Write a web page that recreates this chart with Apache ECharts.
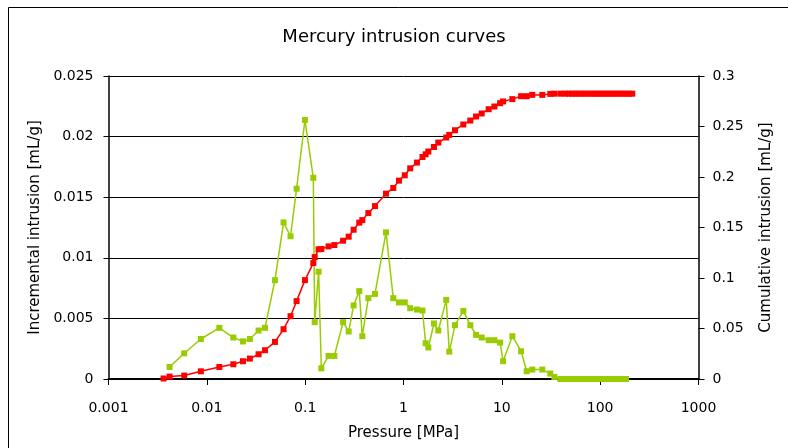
<!DOCTYPE html>
<html>
<head>
<meta charset="utf-8">
<script src="https://cdn.jsdelivr.net/npm/echarts@6/dist/echarts.min.js"></script>
<style>
html,body{margin:0;padding:0;background:#fff;}
#chart{width:788px;height:448px;}
</style>
</head>
<body>
<div id="chart"></div>
<script>
// Pressure [MPa] (shared x values)
var pressure = [0.00363, 0.00418, 0.00589, 0.0087, 0.0134, 0.0186, 0.0233, 0.0274, 0.0336, 0.039,
  0.0493, 0.0603, 0.071, 0.0818, 0.0995, 0.121, 0.125, 0.137, 0.146, 0.173,
  0.198, 0.243, 0.277, 0.311, 0.355, 0.381, 0.439, 0.513, 0.664, 0.787,
  0.90, 1.03, 1.17, 1.37, 1.56, 1.68, 1.79, 2.04, 2.26, 2.72,
  2.92, 3.34, 4.06, 4.78, 5.47, 6.24, 7.35, 8.4, 9.6, 10.3,
  12.8, 15.7, 17.9, 20.4, 25.8, 31.1, 34.2, 39.4, 44, 48,
  52, 56, 60, 65, 70, 76, 82, 88, 95, 102,
  110, 118, 127, 137, 147, 158, 170, 183, 197, 212];
// Incremental intrusion [mL/g] (left axis)
var incremental = [null, 0.00099, 0.00212, 0.0033, 0.00422, 0.00342, 0.0031, 0.0033, 0.004, 0.00422,
  0.00815, 0.01292, 0.01178, 0.0157, 0.02137, 0.0166, 0.00469, 0.00885, 0.00088, 0.0019,
  0.0019, 0.00469, 0.00392, 0.00607, 0.00725, 0.00353, 0.00667, 0.00702, 0.0121, 0.00667,
  0.00632, 0.00632, 0.00584, 0.00573, 0.00565, 0.00295, 0.0026, 0.00458, 0.004, 0.00653,
  0.00226, 0.00444, 0.00562, 0.00444, 0.00364, 0.00342, 0.0032, 0.0032, 0.003, 0.00147,
  0.00353, 0.00229, 0.00064, 0.00078, 0.00078, 0.00045, 0.00017, 0, 0, 0,
  0, 0, 0, 0, 0, 0, 0, 0, 0, 0,
  0, 0, 0, 0, 0, 0, 0, 0, null, null];
// Cumulative intrusion [mL/g] (right axis)
var cumulative = [0.0005, 0.0024, 0.0034, 0.0076, 0.0119, 0.0146, 0.0176, 0.0202, 0.0245, 0.0285,
  0.0367, 0.0493, 0.0622, 0.0771, 0.0979, 0.1148, 0.1207, 0.1284, 0.1287, 0.1313,
  0.1326, 0.1369, 0.1409, 0.1478, 0.1548, 0.1573, 0.1643, 0.1712, 0.1835, 0.1891,
  0.1964, 0.2017, 0.2086, 0.2143, 0.2198, 0.2225, 0.2252, 0.2297, 0.2341, 0.2391,
  0.2417, 0.2463, 0.2520, 0.2559, 0.2599, 0.2629, 0.2671, 0.2698, 0.2731, 0.2748,
  0.2771, 0.2800, 0.2800, 0.2813, 0.2813, 0.2823, 0.2825, 0.2825, 0.2825, 0.2825,
  0.2825, 0.2825, 0.2825, 0.2825, 0.2825, 0.2825, 0.2825, 0.2825, 0.2825, 0.2825,
  0.2825, 0.2825, 0.2825, 0.2825, 0.2825, 0.2825, 0.2825, 0.2825, 0.2825, 0.2825];
var xTickLabels = ['0.001', '0.01', '0.1', '1', '10', '100', '1000'];
var leftTickLabels = ['0', '0.005', '0.01', '0.015', '0.02', '0.025'];
var rightTickLabels = ['0', '0.05', '0.1', '0.15', '0.2', '0.25', '0.3'];

var FONT = 'DejaVu Sans';
function pairs(xs, ys) {
  var out = [];
  for (var i = 0; i < xs.length; i++) {
    if (ys[i] !== null) out.push([xs[i], ys[i]]);
  }
  return out;
}
var chart = echarts.init(document.getElementById('chart'), null, {renderer: 'canvas'});
chart.setOption({
  animation: false,
  backgroundColor: '#fff',
  title: {
    text: 'Mercury intrusion curves',
    left: 'center',
    top: 23,
    textStyle: {fontFamily: FONT, fontSize: 18, fontWeight: 'normal', color: '#000'}
  },
  graphic: [{
    type: 'rect',
    shape: {x: 8.5, y: 7.5, width: 820, height: 470},
    style: {fill: 'none', stroke: '#000', lineWidth: 1},
    silent: true,
    z: -1
  }],
  grid: {left: 108.5, right: 89.5, top: 76, bottom: 69, containLabel: false},
  xAxis: {
    type: 'log',
    logBase: 10,
    min: 0.001,
    max: 1000,
    name: 'Pressure [MPa]',
    nameLocation: 'middle',
    nameGap: 47,
    nameTextStyle: {fontFamily: FONT, fontSize: 15, color: '#000'},
    axisLine: {show: true, lineStyle: {color: '#000', width: 2}},
    axisTick: {show: true, length: 6, lineStyle: {color: '#000'}},
    minorTick: {show: false},
    splitLine: {show: false},
    axisLabel: {
      fontFamily: FONT, fontSize: 14, color: '#000', margin: 22,
      formatter: function (v) { return xTickLabels[Math.round(Math.log10(v)) + 3]; }
    }
  },
  yAxis: [{
    type: 'value',
    position: 'left',
    min: 0,
    max: 0.025,
    interval: 0.005,
    name: 'Incremental intrusion [mL/g]',
    nameLocation: 'middle',
    nameRotate: 90,
    nameGap: 63,
    nameTextStyle: {fontFamily: FONT, fontSize: 15, color: '#000'},
    axisLine: {show: true, lineStyle: {color: '#000', width: 1.5}},
    axisTick: {show: true, length: 5, lineStyle: {color: '#000'}},
    splitLine: {show: true, lineStyle: {color: '#000', width: 1}},
    axisLabel: {
      fontFamily: FONT, fontSize: 14, color: '#000', margin: 15,
      formatter: function (v) { return leftTickLabels[Math.round(v / 0.005)]; }
    }
  }, {
    type: 'value',
    position: 'right',
    min: 0,
    max: 0.3,
    interval: 0.05,
    name: 'Cumulative intrusion [mL/g]',
    nameLocation: 'middle',
    nameRotate: 90,
    nameGap: 60,
    nameTextStyle: {fontFamily: FONT, fontSize: 15, color: '#000'},
    axisLine: {show: true, lineStyle: {color: '#000', width: 1.5}},
    axisTick: {show: true, length: 6, lineStyle: {color: '#000'}},
    splitLine: {show: false},
    axisLabel: {
      fontFamily: FONT, fontSize: 14, color: '#000', margin: 14,
      formatter: function (v) { return rightTickLabels[Math.round(v / 0.05)]; }
    }
  }],
  series: [{
    name: 'Cumulative intrusion',
    type: 'line',
    yAxisIndex: 1,
    data: pairs(pressure, cumulative),
    symbol: 'rect',
    symbolSize: 6,
    showAllSymbol: true,
    lineStyle: {color: '#FF0000', width: 1.5},
    itemStyle: {color: '#FF0000', borderWidth: 0}
  }, {
    name: 'Incremental intrusion',
    type: 'line',
    yAxisIndex: 0,
    data: pairs(pressure, incremental),
    symbol: 'rect',
    symbolSize: 6,
    showAllSymbol: true,
    lineStyle: {color: '#99CC00', width: 1.5},
    itemStyle: {color: '#99CC00', borderWidth: 0}
  }]
});
</script>
</body>
</html>
